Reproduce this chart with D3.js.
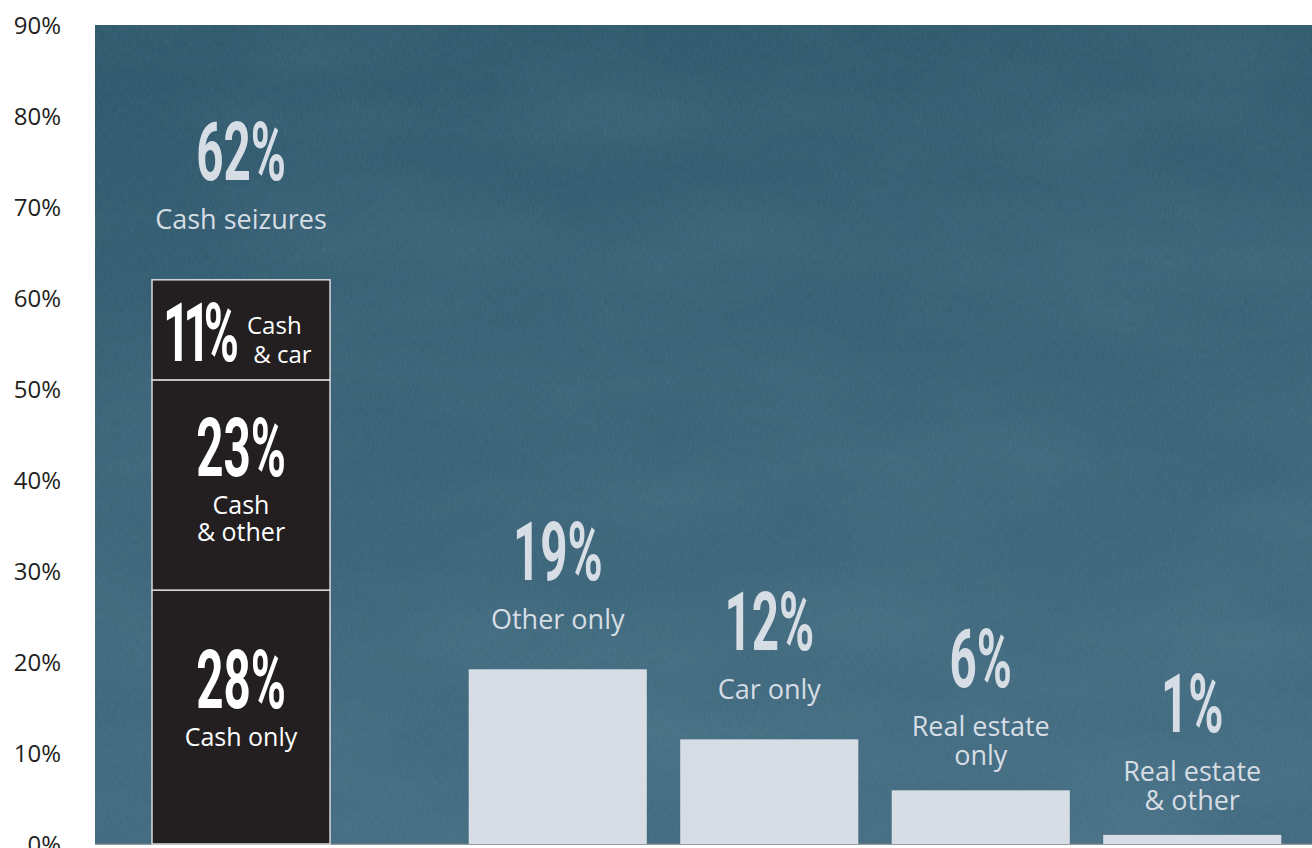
<!DOCTYPE html>
<html>
<head>
<meta charset="utf-8">
<script src="https://cdn.jsdelivr.net/npm/d3@7"></script>
<style>
    body { margin: 0; background: #fff; }
    svg { display: block; }
</style>
</head>
<body>
<svg id="chart"></svg>
<script>
// values (percent of seizures)
const cashSegments = ['Cash only', 'Cash & other', 'Cash & car'];
const cashValues = [27.9, 23.1, 11];
const cashLabels = ['28%', '23%', '11%'];
const cashLines = [['Cash only'], ['Cash', '& other'], ['Cash', ' & car']];
const cashTotalLabel = '62%';
const cashTotalName = 'Cash seizures';

const otherCategories = ['Other only', 'Car only', 'Real estate only', 'Real estate & other'];
const otherValues = [19.2, 11.5, 5.9, 1.0];
const otherLabels = ['19%', '12%', '6%', '1%'];
const otherLines = [['Other only'], ['Car only'], ['Real estate', 'only'], ['Real estate', '& other']];

const yTicks = [0, 10, 20, 30, 40, 50, 60, 70, 80, 90];

let width = 1312;
let height = 848;
let margin = {
    top: 25,
    bot: 4,
    left: 95,
    right: 0
};
let config = {
    width: width - margin.left - margin.right,
    height: height - margin.top - margin.bot,
    margin: margin
};

let svg = d3.select('#chart')
    .attr('width', width)
    .attr('height', height);

let yScale = d3.scaleLinear()
    .domain([0, 90])
    .range([margin.top + config.height, margin.top]);

let cashX = d3.scaleBand()
    .domain([cashTotalName])
    .range([152, 330]);
let otherX = d3.scaleBand()
    .domain(otherCategories)
    .range([452, 1298])
    .paddingInner(0.158)
    .paddingOuter(0.079);

// background panel: gradient plus a grainy chalkboard texture
let defs = svg.append('defs');
let grad = defs.append('linearGradient')
    .attr('id', 'bg')
    .attr('x1', 0).attr('x2', 0.15).attr('y1', 0).attr('y2', 1);
grad.append('stop').attr('offset', '0%').attr('stop-color', '#2c556a');
grad.append('stop').attr('offset', '40%').attr('stop-color', '#335d72');
grad.append('stop').attr('offset', '100%').attr('stop-color', '#3f697f');

let grain = defs.append('filter').attr('id', 'grain')
    .attr('x', 0).attr('y', 0).attr('width', '100%').attr('height', '100%');
grain.append('feTurbulence')
    .attr('type', 'fractalNoise')
    .attr('baseFrequency', '0.8 0.15')
    .attr('numOctaves', 2)
    .attr('seed', 4)
    .attr('result', 'n');
grain.append('feColorMatrix')
    .attr('in', 'n')
    .attr('type', 'matrix')
    .attr('values', '0 0 0 0 0.7  0 0 0 0 0.8  0 0 0 0 0.86  0 0 0 0.09 -0.01');

let clouds = defs.append('filter').attr('id', 'clouds')
    .attr('x', 0).attr('y', 0).attr('width', '100%').attr('height', '100%');
clouds.append('feTurbulence')
    .attr('type', 'fractalNoise')
    .attr('baseFrequency', '0.004 0.01')
    .attr('numOctaves', 3)
    .attr('seed', 11)
    .attr('result', 'n');
clouds.append('feColorMatrix')
    .attr('in', 'n')
    .attr('type', 'matrix')
    .attr('values', '0 0 0 0 0.5  0 0 0 0 0.65  0 0 0 0 0.72  0 0 0 0.12 -0.04');

let panel = svg.append('g');
[['url(#bg)', null], ['#fff', 'url(#clouds)'], ['#fff', 'url(#grain)']].forEach(p => {
    panel.append('rect')
        .attr('x', margin.left)
        .attr('y', margin.top)
        .attr('width', config.width)
        .attr('height', config.height)
        .attr('fill', p[0])
        .attr('filter', p[1]);
});
panel.append('line')
    .attr('x1', margin.left)
    .attr('x2', width)
    .attr('y1', yScale(0))
    .attr('y2', yScale(0))
    .attr('stroke', '#6d7880')
    .attr('stroke-width', 1.5);

// y axis: labels only
let yAx = d3.axisLeft(yScale)
    .tickValues(yTicks)
    .tickFormat(d => d + '%')
    .tickSize(0)
    .tickPadding(0);
let yAxGroup = svg.append('g')
    .attr('transform', 'translate(61,0)')
    .call(yAx);
yAxGroup.select('.domain').remove();
yAxGroup.selectAll('text')
    .attr('dy', '0.35em')
    .style('font-family', '"Open Sans", sans-serif')
    .style('font-size', '24px')
    .style('fill', '#231f20');

const bigFont = 'Roboto, sans-serif';
const smallFont = '"Open Sans", sans-serif';
const squeeze = 0.58;

function bigNumber(g, x, y, text, color, anchor, spacing) {
    g.append('g')
        .attr('transform', `translate(${x},${y}) scale(${squeeze},1)`)
        .append('text')
        .attr('text-anchor', anchor || 'middle')
        .style('font-family', bigFont)
        .style('font-weight', 700)
        .style('font-size', '82px')
        .style('letter-spacing', (spacing || 0) + 'px')
        .style('fill', color)
        .text(text);
}

function textLines(g, x, y, lines, color, anchor, size, lead) {
    let t = g.append('text')
        .attr('x', x)
        .attr('y', y)
        .attr('text-anchor', anchor || 'middle')
        .attr('xml:space', 'preserve')
        .style('font-family', smallFont)
        .style('font-size', (size || 27) + 'px')
        .style('fill', color);
    lines.forEach((l, i) => {
        t.append('tspan')
            .attr('x', x)
            .attr('dy', i === 0 ? 0 : (lead || 29))
            .text(l);
    });
}

// stacked cash bar
let stacked = [];
let acc = 0;
cashValues.forEach((v, i) => {
    stacked.push({name: cashSegments[i], y0: acc, y1: acc + v, label: cashLabels[i], lines: cashLines[i]});
    acc += v;
});

let cashG = svg.append('g');
cashG.selectAll('rect')
    .data(stacked)
    .join('rect')
    .attr('x', cashX(cashTotalName))
    .attr('width', cashX.bandwidth())
    .attr('y', d => yScale(d.y1))
    .attr('height', d => yScale(d.y0) - yScale(d.y1))
    .attr('fill', '#231f20')
    .attr('stroke', '#d9d9d9')
    .attr('stroke-width', 1.5);

let cx = cashX(cashTotalName) + cashX.bandwidth() / 2;
stacked.forEach(d => {
    let mid = (yScale(d.y0) + yScale(d.y1)) / 2;
    if (d.lines.length > 1 && yScale(d.y0) - yScale(d.y1) < 120) {
        // short segment: number left, text right
        bigNumber(cashG, cashX(cashTotalName) + 11, mid + 31, d.label, '#fff', 'start', -12);
        textLines(cashG, cashX(cashTotalName) + 95, mid + 4, d.lines, '#fff', 'start', 24, 29);
    } else {
        bigNumber(cashG, cx, mid - 9, d.label, '#fff');
        textLines(cashG, cx, mid + 29, d.lines, '#fff', 'middle', 25, 27);
    }
});

// total label above stacked bar
let cashTop = yScale(acc);
textLines(svg, cx, cashTop - 51, [cashTotalName], '#d6dde4');
bigNumber(svg, cx, cashTop - 100, cashTotalLabel, '#d6dde4');

// the other bars
let otherData = otherCategories.map((c, i) => ({name: c, value: otherValues[i], label: otherLabels[i], lines: otherLines[i]}));
let otherG = svg.append('g');
otherG.selectAll('rect')
    .data(otherData)
    .join('rect')
    .attr('x', d => otherX(d.name))
    .attr('width', otherX.bandwidth())
    .attr('y', d => yScale(d.value))
    .attr('height', d => yScale(0) - yScale(d.value))
    .attr('fill', '#d6dde4');

otherData.forEach(d => {
    let x = otherX(d.name) + otherX.bandwidth() / 2;
    let top = yScale(d.value);
    let lastBase = top - (d.lines.length === 1 ? 40 : 25);
    let firstBase = lastBase - 29 * (d.lines.length - 1);
    textLines(otherG, x, firstBase, d.lines, '#d6dde4');
    bigNumber(otherG, x, firstBase - 49, d.label, '#d6dde4');
});
</script>
</body>
</html>
